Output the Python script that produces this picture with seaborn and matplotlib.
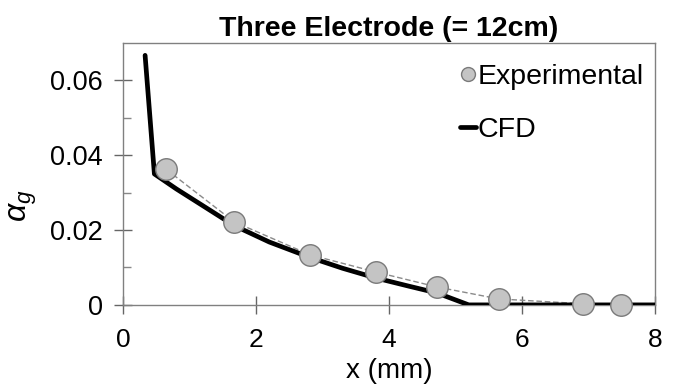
import matplotlib
matplotlib.use("Agg")
import matplotlib.pyplot as plt
import seaborn as sns
import pandas as pd
from matplotlib.lines import Line2D

exp_x = [0.65, 1.67, 2.81, 3.80, 4.72, 5.65, 6.92, 7.49]
exp_y = [0.0362, 0.0222, 0.0134, 0.0088, 0.0048, 0.0016, 0.0003, 0.0000]

cfd_x = [0.33, 0.47, 0.8, 1.2, 1.67, 2.2, 2.81, 3.3, 3.8, 4.3, 4.72, 5.2, 8.0]
cfd_y = [0.0667, 0.0350, 0.0310, 0.0265, 0.0212, 0.0168, 0.0127, 0.0098, 0.0072, 0.0050, 0.0032, 0.0, 0.0]

xticks = [0, 2, 4, 6, 8]
xtick_labels = ["0", "2", "4", "6", "8"]
yticks = [0, 0.02, 0.04, 0.06]
ytick_labels = ["0", "0.02", "0.04", "0.06"]
yminor = [0.01, 0.03, 0.05]

title = "Three Electrode (= 12cm)"
xlabel = "x (mm)"
ylabel = r"$\alpha_g$"

sns.set_theme(style="white")
plt.rcParams['font.family'] = ['Liberation Sans', 'DejaVu Sans']
plt.rcParams['mathtext.fontset'] = 'custom'
plt.rcParams['mathtext.it'] = 'Liberation Sans:italic'
plt.rcParams['mathtext.rm'] = 'Liberation Sans'
plt.rcParams['text.color'] = 'black'
plt.rcParams['axes.labelcolor'] = 'black'
plt.rcParams['xtick.color'] = 'black'
plt.rcParams['ytick.color'] = 'black'

exp_df = pd.DataFrame({"x": exp_x, "y": exp_y})
cfd_df = pd.DataFrame({"x": cfd_x, "y": cfd_y})

fig = plt.figure(figsize=(6.73, 3.84), dpi=100)
ax = fig.add_axes([0.183, 0.206, 0.79, 0.682])

sns.lineplot(data=exp_df, x="x", y="y", ax=ax, color="#8a8a8a", lw=1.0,
             linestyle=(0, (4, 2)), sort=False, zorder=2)
sns.lineplot(data=cfd_df, x="x", y="y", ax=ax, color="black", lw=3.4,
             sort=False, zorder=3)
ax.plot(exp_df["x"], exp_df["y"], linestyle="none", marker="o", markersize=15.5,
        markerfacecolor="#c4c4c4", markeredgecolor="#7a7a7a", markeredgewidth=1.0,
        clip_on=False, zorder=4)

ax.set_xlim(0, 8)
ax.set_ylim(0, 0.07)
ax.set_xticks(xticks)
ax.set_xticklabels(xtick_labels)
ax.set_yticks(yticks)
ax.set_yticklabels(ytick_labels)
ax.set_yticks(yminor, minor=True)
ax.tick_params(axis="both", which="major", direction="inout", length=13, width=1,
               color="#666666", labelcolor="black")
ax.tick_params(axis="y", which="major", pad=8, left=True, labelsize=19.5)
ax.tick_params(axis="x", which="major", pad=10, bottom=True, labelsize=19)
ax.tick_params(axis="y", which="minor", direction="in", length=6, width=1,
               color="#888888", left=True)

for s in ax.spines.values():
    s.set_color("#808080")
    s.set_linewidth(1.0)

ax.set_title(title, fontsize=20.5, fontweight="bold", pad=5, color="black")
ax.set_xlabel(xlabel, fontsize=20)
ax.xaxis.set_label_coords(0.5, -0.278, transform=ax.transAxes)
ax.xaxis.label.set_va("baseline")
ax.set_ylabel(ylabel, fontsize=23)
ax.yaxis.set_label_coords(-0.158, 0.38)

handles = [
    Line2D([], [], linestyle="none", marker="o", markersize=10,
           markerfacecolor="#c4c4c4", markeredgecolor="#7a7a7a"),
    Line2D([], [], color="black", lw=3.4),
]
ax.legend(handles, ["Experimental", "CFD"], loc="upper right",
          bbox_to_anchor=(1.0, 0.965), frameon=False,
          fontsize=20.5, handlelength=0.55, handletextpad=0.05, labelspacing=0.95,
          borderaxespad=0.2, borderpad=0.2)

fig.savefig("out.png", dpi=100)
